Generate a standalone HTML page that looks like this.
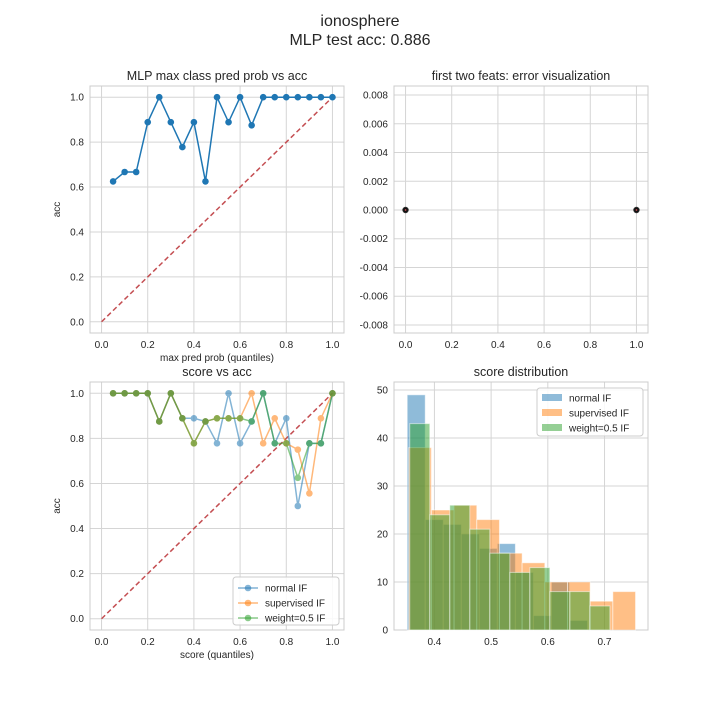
<!DOCTYPE html>
<html><head><meta charset="utf-8"><style>
body{margin:0;background:#fff;}
svg{display:block;font-family:"Liberation Sans","DejaVu Sans",sans-serif;}
</style></head><body>
<svg id="fig" width="720" height="720" viewBox="0 0 720 720">
<text x="360" y="26" text-anchor="middle" font-size="16" fill="#262626">ionosphere</text>
<text x="360" y="45" text-anchor="middle" font-size="16" fill="#262626">MLP test acc: 0.886</text>
</svg>
<script>
const quantiles=[0.05,0.1,0.15,0.2,0.25,0.3,0.35,0.4,0.45,0.5,0.55,0.6,0.65,0.7,0.75,0.8,0.85,0.9,0.95,1.0];
const mlpAcc=[0.625,0.667,0.667,0.889,1,0.889,0.778,0.889,0.625,1,0.889,1,0.875,1,1,1,1,1,1,1];
const normalAcc=[1,1,1,1,0.875,1,0.889,0.889,0.875,0.778,1,0.778,0.875,1,0.778,0.889,0.5,0.778,0.778,1];
const supervisedAcc=[1,1,1,1,0.875,1,0.889,0.778,0.875,0.889,0.889,0.889,1,0.778,0.889,0.778,0.75,0.556,0.889,1];
const weightAcc=[1,1,1,1,0.875,1,0.889,0.778,0.875,0.889,0.889,0.889,0.875,1,0.778,0.778,0.625,0.778,0.778,1];
const unitTicks=[0.0,0.2,0.4,0.6,0.8,1.0];
const errX=[0,1];
const errY=[0,0];
const errTicks=[-0.008,-0.006,-0.004,-0.002,0,0.002,0.004,0.006,0.008];
const normalHist={start:0.352,width:0.0318,counts:[49,23,22,20,17,18,12,3,10,2]};
const supervisedHist={start:0.3547,width:0.04,counts:[38,25,26,23,16,14,10,10,6,8]};
const weightHist={start:0.3565,width:0.0353,counts:[43,24,26,21,16,12,13,8,8,5]};
const histXTicks=[0.4,0.5,0.6,0.7];
const histYTicks=[0,10,20,30,40,50];

const NS="http://www.w3.org/2000/svg";
const fig=document.getElementById('fig');
function el(tag,attrs,parent,text){const e=document.createElementNS(NS,tag);for(const k in attrs)e.setAttribute(k,attrs[k]);if(text!==undefined)e.textContent=text;(parent||fig).appendChild(e);return e;}
function makeAxes(name,x0,y0,w,h,xmin,xmax,ymin,ymax){
  const g=el('g',{});
  
  
  const sx=v=>x0+(v-xmin)/(xmax-xmin)*w;
  const sy=v=>y0+h-(v-ymin)/(ymax-ymin)*h;
  return {g,sx,sy,x0,y0,w,h};
}
function frame(ax,xt,yt,xfmt,yfmt){
  for(const t of xt){const x=ax.sx(t);
    const l=el('line',{x1:x,x2:x,y1:ax.y0,y2:ax.y0+ax.h,stroke:'#d5d5d5','stroke-width':1},ax.g);
    
    const tx=el('text',{x:x,y:ax.y0+ax.h+15,'text-anchor':'middle','font-size':10,fill:'#262626'},ax.g,xfmt(t));
    }
  for(const t of yt){const y=ax.sy(t);
    const l=el('line',{x1:ax.x0,x2:ax.x0+ax.w,y1:y,y2:y,stroke:'#d5d5d5','stroke-width':1},ax.g);
    
    const tx=el('text',{x:ax.x0-6,y:y+3.5,'text-anchor':'end','font-size':10,fill:'#262626'},ax.g,yfmt(t));
    }
}
function border(ax){const r=el('rect',{x:ax.x0,y:ax.y0,width:ax.w,height:ax.h,fill:'none',stroke:'#cccccc','stroke-width':1},ax.g);
  }
function title(ax,t,name){const e=el('text',{x:ax.x0+ax.w/2,y:ax.y0-6,'text-anchor':'middle','font-size':12.5,fill:'#262626'},ax.g,t);
  }
function label(ax,t,axis){let e;
  if(axis==='x'){e=el('text',{x:ax.x0+ax.w/2,y:ax.y0+ax.h+28,'text-anchor':'middle','font-size':10,fill:'#262626'},ax.g,t);}
  else{const cx=ax.x0-30,cy=ax.y0+ax.h/2;e=el('text',{x:cx,y:cy,'text-anchor':'middle','font-size':10,fill:'#262626',transform:`rotate(-90 ${cx} ${cy})`},ax.g,t);}
  }
function diag(ax){const l=el('line',{x1:ax.sx(0),y1:ax.sy(0),x2:ax.sx(1),y2:ax.sy(1),stroke:'#c44e52','stroke-width':1.5,'stroke-dasharray':'5,3'},ax.g);
  }
function series(ax,xs,ys,color,op,name){
  const pts=xs.map((x,i)=>ax.sx(x)+','+ax.sy(ys[i])).join(' ');
  const g=el('g',{opacity:op},ax.g);
  
  el('polyline',{points:pts,fill:'none',stroke:color,'stroke-width':1.5},g);
  xs.forEach((x,i)=>{const c=el('circle',{cx:ax.sx(x),cy:ax.sy(ys[i]),r:3.3,fill:color},g);
    });
}
const f1=t=>t.toFixed(1), f3=t=>t.toFixed(3);

// top-left
const a1=makeAxes('mlp-prob-chart',90,86,254,247,-0.05,1.05,-0.05,1.05);
frame(a1,unitTicks,unitTicks,f1,f1);border(a1);diag(a1);
series(a1,quantiles,mlpAcc,'#1f77b4',1,'mlp-acc-series');
title(a1,'MLP max class pred prob vs acc','mlp-chart-title');label(a1,'max pred prob (quantiles)','x');label(a1,'acc','y');

// top-right
const a2=makeAxes('error-visualization-chart',394,86,254,247,-0.05,1.05,-0.00856,0.00863);
frame(a2,unitTicks,errTicks,f1,f3);border(a2);
errX.forEach((x,i)=>{const c=el('circle',{cx:a2.sx(x),cy:a2.sy(errY[i]),r:2.8,fill:'#111',stroke:'#333','stroke-width':0.8},a2.g);
  
  el('circle',{cx:a2.sx(x),cy:a2.sy(errY[i]),r:0.9,fill:'#c44e52'},a2.g);});
title(a2,'first two feats: error visualization','error-chart-title');

// bottom-left
const a3=makeAxes('score-vs-acc-chart',90,382,254,248,-0.05,1.05,-0.05,1.05);
frame(a3,unitTicks,unitTicks,f1,f1);border(a3);diag(a3);
series(a3,quantiles,normalAcc,'#1f77b4',0.55,'normal-if-series');
series(a3,quantiles,supervisedAcc,'#ff7f0e',0.55,'supervised-if-series');
series(a3,quantiles,weightAcc,'#2ca02c',0.55,'weight-if-series');
title(a3,'score vs acc','score-chart-title');label(a3,'score (quantiles)','x');label(a3,'acc','y');
const lg=el('g',{});
el('rect',{x:233,y:577,width:106,height:48,rx:3,fill:'#fff',stroke:'#ccc','fill-opacity':0.85},lg);
[['normal IF','#1f77b4'],['supervised IF','#ff7f0e'],['weight=0.5 IF','#2ca02c']].forEach((d,i)=>{
  const y=588+i*15;
  const e=el('g',{},lg);
  el('line',{x1:238,x2:258,y1:y,y2:y,stroke:d[1],'stroke-width':1.5,opacity:0.55},e);
  el('circle',{cx:248,cy:y,r:3.3,fill:d[1],opacity:0.55},e);
  el('text',{x:265,y:y+3.5,'font-size':10,fill:'#262626'},e,d[0]);});

// bottom-right
const a4=makeAxes('score-distribution-chart',394,382,254,248,0.3287,0.7767,0,51.67);
frame(a4,histXTicks,histYTicks,f1,t=>String(t));border(a4);
function hist(h,color,name){const g=el('g',{},a4.g);
  h.counts.forEach((c,i)=>{const x0=h.start+i*h.width,x1=x0+h.width;
    const r=el('rect',{x:a4.sx(x0),y:a4.sy(c),width:a4.sx(x1)-a4.sx(x0),height:a4.sy(0)-a4.sy(c),fill:color,'fill-opacity':0.5,stroke:'#fff','stroke-opacity':0.5,'stroke-width':1},g);
    });}
hist(normalHist,'#1f77b4','normal-if-hist');
hist(supervisedHist,'#ff7f0e','supervised-if-hist');
hist(weightHist,'#2ca02c','weight-if-hist');
title(a4,'score distribution','hist-chart-title');
const lg2=el('g',{});
el('rect',{x:537,y:388,width:106,height:48,rx:3,fill:'#fff',stroke:'#ccc','fill-opacity':0.85},lg2);
[['normal IF','#1f77b4'],['supervised IF','#ff7f0e'],['weight=0.5 IF','#2ca02c']].forEach((d,i)=>{
  const y=398+i*15;
  const e=el('g',{},lg2);
  el('rect',{x:542,y:y-4,width:20,height:7,fill:d[1],'fill-opacity':0.5},e);
  el('text',{x:569,y:y+3.5,'font-size':10,fill:'#262626'},e,d[0]);});
</script>
</body></html>
